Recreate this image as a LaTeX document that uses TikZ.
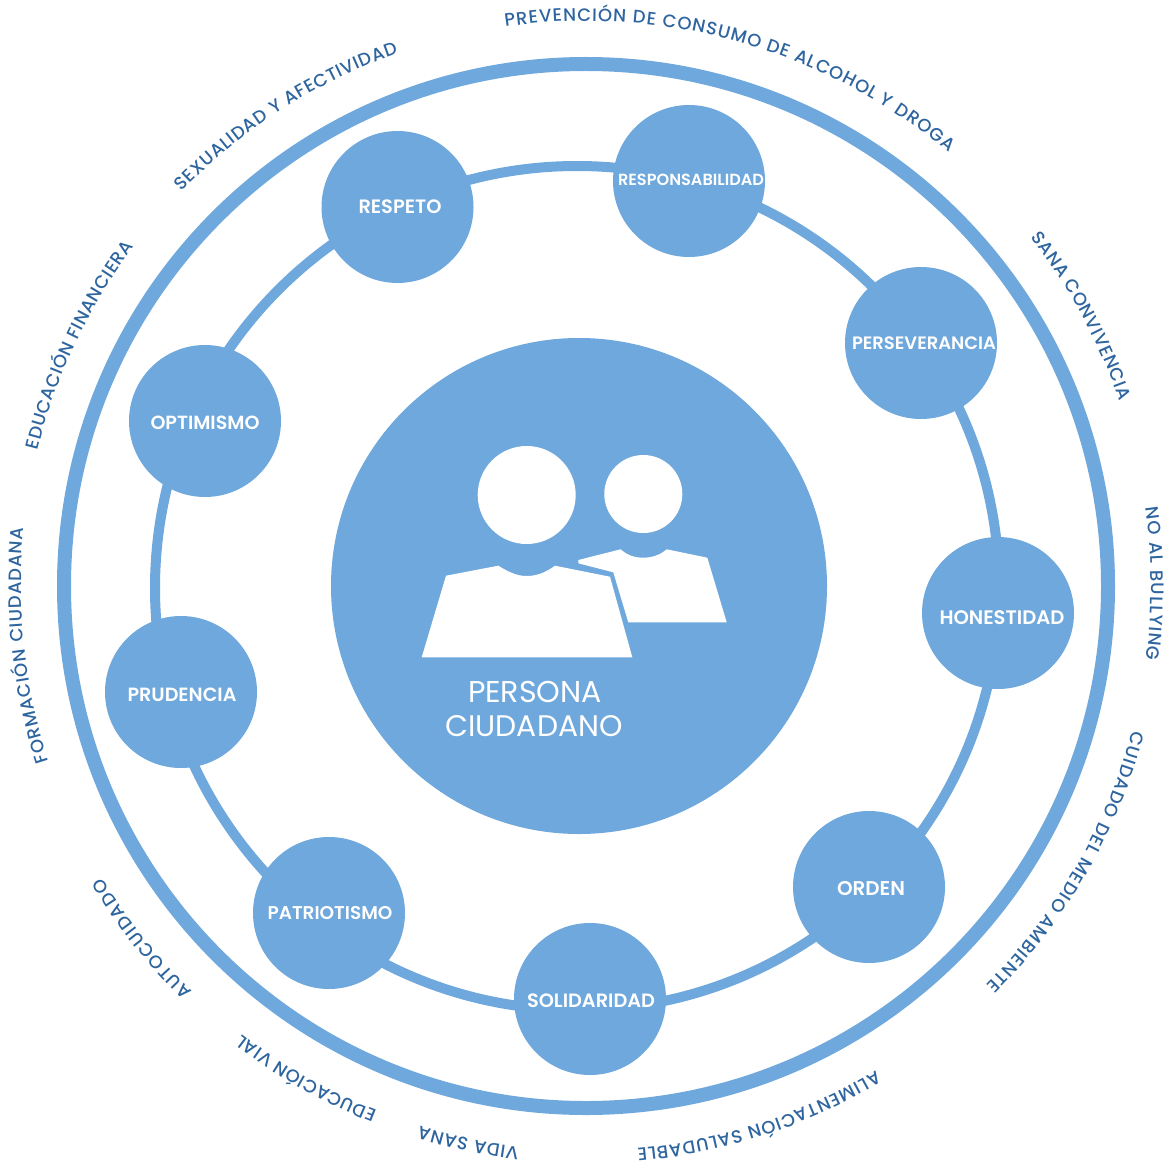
\documentclass[tikz,border=0pt]{standalone}
\usepackage{fontspec}
\setmainfont{Poppins}
\newfontfamily\medfont{Poppins Medium}
\newfontfamily\semifont{Poppins SemiBold}
\usetikzlibrary{decorations.text}
\definecolor{ringblue}{HTML}{6FA8DC}
\definecolor{labelblue}{HTML}{2E659F}
\newcommand{\topicfont}{\medfont\fontsize{18}{18}\selectfont\color{labelblue}}
\newcommand{\topiclabel}[3]{%
  \path[decorate,decoration={text along path,text align=fit to path,
    text={|\topicfont|#3}}]
    (#1:565) arc[start angle=#1,end angle=#2,radius=565];}
\newcommand{\fitw}[2]{\resizebox{#1pt}{!}{#2}}
\tikzset{
  ringline/.style={circle,draw=ringblue,fill=none,inner sep=0pt,outer sep=0pt},
  valuebox/.style={circle,fill=ringblue,inner sep=0pt,outer sep=0pt,minimum size=152pt},
  valuetext/.style={text=white,inner sep=0pt,outer sep=0pt,font=\semifont\fontsize{16}{16}\selectfont},
  hub/.style={circle,fill=ringblue,inner sep=0pt,outer sep=0pt,minimum size=496pt},
  figure/.style={fill=white,draw=none},
  hubtext/.style={text=white,inner sep=0pt,anchor=base,font=\fontsize{30}{30}\selectfont}
}
\begin{document}
\begin{tikzpicture}[x=1pt,y=-1pt]
\useasboundingbox (0,0) rectangle (1172,1174);
\node[ringline,line width=14pt,minimum size=1044pt] (outerring) at (586,586) {};
\node[ringline,line width=10pt,minimum size=844pt] (valuering) at (577,588) {};
\node[hub] (center) at (579,586) {};
\node[valuebox] (respeto) at (397.5,207) {};
\node[valuebox] (responsabilidad) at (689,181) {};
\node[valuebox] (perseverancia) at (921,343) {};
\node[valuebox] (honestidad) at (998,613) {};
\node[valuebox] (orden) at (869,887) {};
\node[valuebox] (solidaridad) at (590,999) {};
\node[valuebox] (patriotismo) at (329,913) {};
\node[valuebox] (prudencia) at (181,692) {};
\node[valuebox] (optimismo) at (205,421) {};
\node[valuetext] (t1) at (400,207) {\fitw{83}{RESPETO}};
\node[valuetext] (t2) at (691,179.5) {\fitw{146}{RESPONSABILIDAD}};
\node[valuetext] (t3) at (924,343) {\fitw{144}{PERSEVERANCIA}};
\node[valuetext] (t4) at (1002,618) {\fitw{125}{HONESTIDAD}};
\node[valuetext] (t5) at (871,888) {\fitw{68}{ORDEN}};
\node[valuetext] (t6) at (591,1001) {\fitw{128}{SOLIDARIDAD}};
\node[valuetext] (t7) at (330,913) {\fitw{125}{PATRIOTISMO}};
\node[valuetext] (t8) at (182,695) {\fitw{109}{PRUDENCIA}};
\node[valuetext] (t9) at (205,423) {\fitw{109}{OPTIMISMO}};
% people
\fill[figure] (526.7,495) circle[radius=49];
\fill[figure] (643.3,494) circle[radius=39];
\fill[figure] (421.7,657.3) -- (446,575.7) -- (498.3,565.7)
  .. controls (510,573) and (518,576) .. (526.7,576)
  .. controls (536,576) and (545,573) .. (555,565.7)
  -- (610,576.7) -- (632.3,657.3) -- cycle;
\fill[figure] (578.3,560) -- (578.3,563.3) -- (613.3,572.3) -- (628.3,622.3)
  -- (726.7,622.3) -- (707.3,557.7) -- (666.7,549.3)
  .. controls (660,555) and (652,557.7) .. (643.3,557.7)
  .. controls (634,557.7) and (627,555) .. (620.7,549.3) -- cycle;
\node[hubtext] (persona) at (535,702) {\fitw{134}{PERSONA}};
\node[hubtext] (ciudadano) at (534,736) {\fitw{177}{CIUDADANO}};
% topics
\begin{scope}[shift={(586,586)},y=1pt]
\topiclabel{98.2}{50.1}{PREVENCIÓN DE CONSUMO DE ALCOHOL Y DROGA}
\topiclabel{38.1}{19.1}{SANA CONVIVENCIA}
\topiclabel{8}{-7.5}{NO AL BULLYING}
\topiclabel{-14.8}{-45}{CUIDADO DEL MEDIO AMBIENTE}
\topiclabel{-59.1}{-84.8}{ALIMENTACIÓN SALUDABLE}
\topiclabel{-96.8}{-107.1}{VIDA SANA}
\topiclabel{-111.7}{-127.5}{EDUCACIÓN VIAL}
\topiclabel{-134.1}{-148.9}{AUTOCUIDADO}
\topiclabel{-161.9}{-185.9}{FORMACIÓN CIUDADANA}
\topiclabel{166.1}{143.1}{EDUCACIÓN FINANCIERA}
\topiclabel{135.7}{109.4}{SEXUALIDAD Y AFECTIVIDAD}
\end{scope}
\end{tikzpicture}
\end{document}
